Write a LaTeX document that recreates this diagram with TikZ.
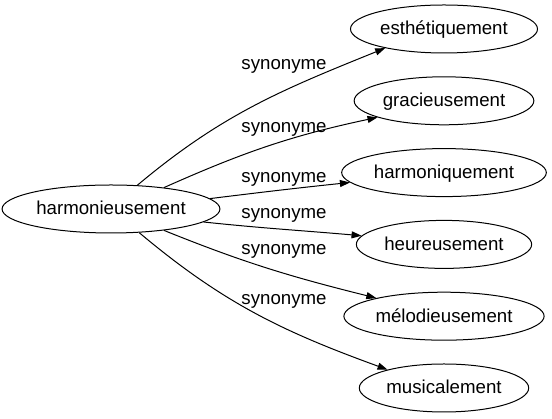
\documentclass[tikz,border=0pt]{standalone}
\usepackage{fontspec}
\setmainfont{Liberation Sans}
\usetikzlibrary{shapes.geometric,arrows.meta}
\begin{document}
\begin{tikzpicture}[x=1pt,y=1pt,
        word/.style={shape=ellipse,draw=black,line width=1pt,inner xsep=2.3pt,
          minimum height=48pt,text height=13.5pt,text depth=1.5pt,
          font=\fontsize{18.67}{22}\selectfont},
        syn/.style={anchor=base,inner sep=0pt,font=\fontsize{18.67}{22}\selectfont},
        every edge/.style={draw=black,line width=1pt,
          -{Triangle[length=10pt,width=7pt]}}]
        \useasboundingbox (0,0) rectangle (552,419);
        \node[word] (harmonieusement) at (111,210) {harmonieusement};
        \node[word] (esthetiquement) at (444,390) {esthétiquement};
        \node[word] (gracieusement) at (444,318.2) {gracieusement};
        \node[word] (harmoniquement) at (444,246.4) {harmoniquement};
        \node[word] (heureusement) at (444,174.6) {heureusement};
        \node[word] (melodieusement) at (444,102.8) {mélodieusement};
        \node[word] (musicalement) at (444,31) {musicalement};
        \node[syn] (syn-1) at (284,349) {synonyme};
        \node[syn] (syn-2) at (284,286) {synonyme};
        \node[syn] (syn-3) at (284,236.5) {synonyme};
        \node[syn] (syn-4) at (284,200) {synonyme};
        \node[syn] (syn-5) at (284,164.5) {synonyme};
        \node[syn] (syn-6) at (284,114.5) {synonyme};

        \path
        (harmonieusement.42) edge[out=40,in=202] (esthetiquement.198)
        (harmonieusement.22) edge[out=24,in=192] (gracieusement.194)
        (harmonieusement.6) edge[out=7,in=186] (harmoniquement.186)
        (harmonieusement.352) edge[out=-6,in=175] (heureusement.174)
        (harmonieusement.338) edge[out=-22,in=166] (melodieusement.165)
        (harmonieusement.320) edge[out=-40,in=160] (musicalement.162)
        ;
        \end{tikzpicture}
\end{document}
